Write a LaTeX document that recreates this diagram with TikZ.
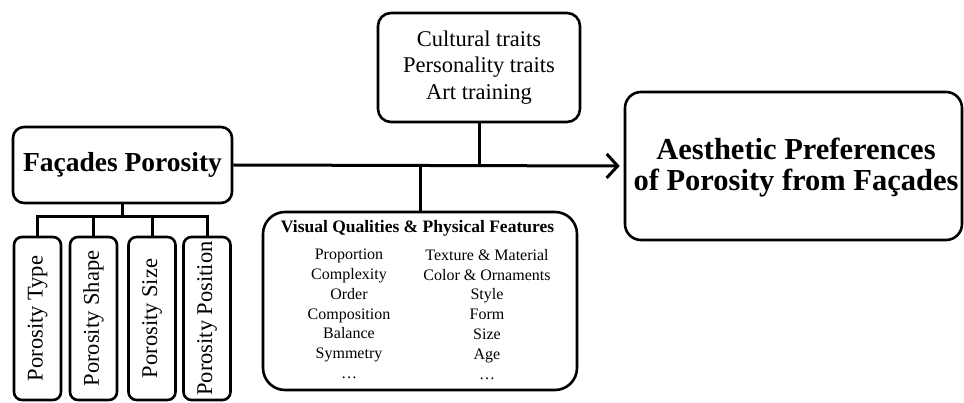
\documentclass[tikz,border=0pt]{standalone}
\usepackage{fontspec}
\setmainfont{Liberation Serif}
\usetikzlibrary{arrows.meta}
\begin{document}
\begin{tikzpicture}[x=1pt,y=-1pt,
  box/.style={draw=black, line width=2.6pt, align=center, inner sep=0pt},
  link/.style={line width=3pt},
  vert/.style={box, rounded corners=8pt, rotate=90, minimum width=163pt, minimum height=47pt,
     font=\fontsize{22.5}{26}\selectfont}]
\useasboundingbox (0,0) rectangle (964,403);
% main boxes
\node[box, rounded corners=11pt, minimum width=219pt, minimum height=76pt,
  font=\fontsize{27.5}{32}\selectfont\bfseries] (fp) at (122.5,165) {Façades Porosity};
\node[box, rounded corners=13pt, minimum width=202pt, minimum height=109pt,
  font=\fontsize{22.5}{26.5}\selectfont] (ct) at (479,67.5) {Cultural traits\\Personality traits\\Art training};
\node[box, rounded corners=16pt, minimum width=337pt, minimum height=148pt] (ae) at (793.5,166) {};
\node[inner sep=0pt, align=center, font=\fontsize{30.5}{31}\selectfont\bfseries] (aet) at (796,168)
  {Aesthetic Preferences\\of Porosity from Façades};
\node[box, rounded corners=22pt, minimum width=314pt, minimum height=178pt] (vq) at (420,301) {};
\node[anchor=base, inner sep=0pt, font=\fontsize{17.5}{20}\selectfont\bfseries] (vqt) at (417.5,233)
  {Visual Qualities \& Physical Features};
\node[anchor=north, inner sep=0pt, align=center, font=\fontsize{16}{19.8}\selectfont] (vql) at (349,249)
  {Proportion\\Complexity\\Order\\Composition\\Balance\\Symmetry\\\dots};
\node[anchor=north, inner sep=0pt, align=center, font=\fontsize{16}{19.8}\selectfont] (vqr) at (487,249)
  {Texture \& Material\\Color \& Ornaments\\Style\\Form\\Size\\Age\\\dots};
% porosity boxes
\node[vert] (p1) at (37.5,318.5) {Porosity Type};
\node[vert] (p2) at (93.5,318.5) {Porosity Shape};
\node[vert] (p3) at (152,318.5) {Porosity Size};
\node[vert] (p4) at (207,318.5) {Porosity Position};
% connectors
\coordinate (bus) at (122.5,217);
\draw[link] (fp.south) -- (bus);
\draw[link] (p1.east) |- (p4.east |- bus) -- (p4.east);
\draw[link] (p2.east) -- (p2.east |- bus);
\draw[link] (p3.east) -- (p3.east |- bus);
\draw[link, -{Straight Barb[length=11pt,width=24pt,line width=3pt]}, shorten >=4pt] (fp.east) -- (ae.west);
\draw[link] (ct.south) -- (ct.south |- fp.east);
\draw[link] (vq.north) -- (vq.north |- fp.east);
\end{tikzpicture}
\end{document}
